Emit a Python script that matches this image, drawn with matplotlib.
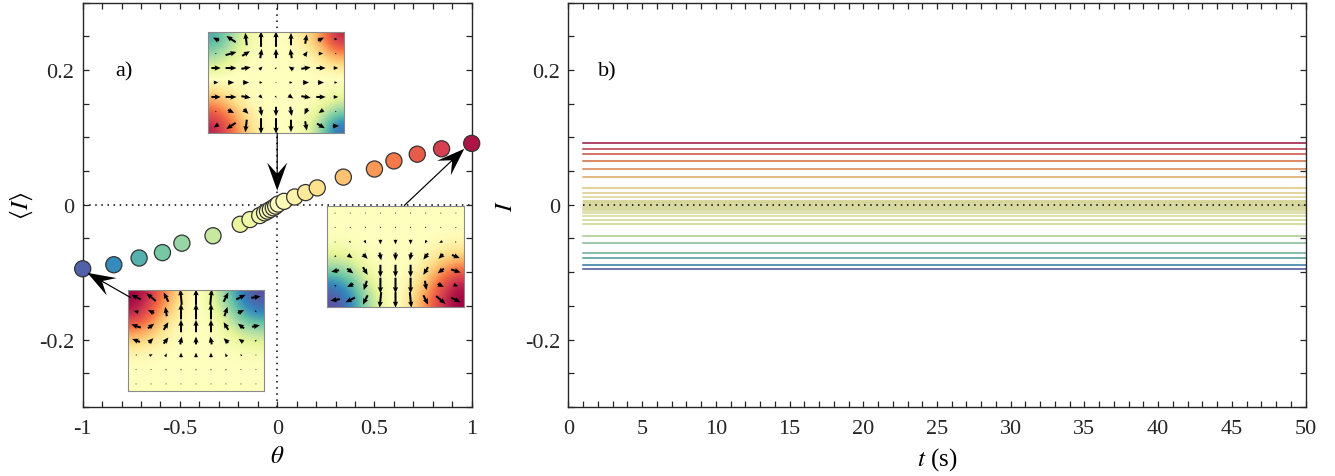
import numpy as np
import matplotlib
matplotlib.use('Agg')
import matplotlib.pyplot as plt
from matplotlib.colors import Normalize
from matplotlib.patches import FancyArrow
from matplotlib.ticker import MultipleLocator, FixedLocator, FixedFormatter

plt.rcParams['font.family'] = ['Liberation Serif', 'DejaVu Serif']
plt.rcParams['mathtext.fontset'] = 'stix'
plt.rcParams['font.size'] = 16

# mean intensity vs theta (panel a) -- same values give the lines of panel b
theta = [-1.0, -0.84, -0.71, -0.59, -0.49, -0.33, -0.19, -0.14, -0.09, -0.065, -0.05,
         -0.035, -0.02, -0.008, 0.005, 0.035, 0.09, 0.146, 0.206, 0.34, 0.5, 0.6,
         0.72, 0.845, 1.0]
I_mean = [-0.095, -0.089, -0.079, -0.071, -0.057, -0.046, -0.029, -0.022, -0.016,
          -0.012, -0.0095, -0.007, -0.0045, -0.002, 0.001, 0.005, 0.0115, 0.018,
          0.025, 0.041, 0.053, 0.065, 0.075, 0.083, 0.091]

# time axis of panel b
t = np.arange(1, 51)
band_lo, band_hi = -0.0075, 0.0075

# inset fields (coarse grids, drawn with smooth interpolation)
field_mid = [[-0.7, -0.4, -0.1, 0.0, 0.0, 0.1, 0.4, 0.9],
             [-0.4, -0.2, 0.0, 0.0, 0.0, 0.0, 0.1, 0.4],
             [-0.1, 0.0, 0.0, 0.0, 0.0, 0.0, 0.0, 0.0],
             [0.2, 0.05, 0.0, 0.0, 0.0, 0.0, 0.0, -0.05],
             [0.6, 0.3, 0.05, 0.0, 0.0, 0.0, -0.1, -0.4],
             [0.9, 0.6, 0.2, 0.0, 0.0, -0.05, -0.4, -0.9]]
U_mid = [[-0.4, -0.6, -0.1, 0.0, 0.0, 0.0, 0.1, 0.4, 0.2],
         [0.1, 0.7, 0.5, 0.1, 0.0, -0.1, 0.2, 0.3, 0.1],
         [0.6, 0.7, 0.6, 0.2, 0.1, -0.3, 0.6, 0.6, 0.3],
         [0.3, 0.4, 0.4, 0.2, 0.0, 0.2, 0.4, 0.4, 0.2],
         [0.6, 0.7, 0.6, 0.2, 0.1, 0.3, 0.6, 0.6, 0.3],
         [0.1, 0.4, 0.3, 0.1, 0.0, 0.1, -0.2, -0.3, 0.1],
         [-0.3, -0.6, -0.1, 0.0, 0.0, 0.0, 0.1, 0.5, 0.4]]
V_mid = [[0.2, 0.4, 0.8, 1.0, 1.0, 0.8, 0.6, 0.2, 0.0],
         [0.0, 0.2, 0.3, 0.6, 0.6, 0.6, 0.3, 0.0, 0.0],
         [0.0, 0.0, 0.1, 0.2, 0.1, 0.2, 0.1, 0.0, 0.0],
         [0.0, 0.0, 0.0, 0.0, 0.0, 0.0, 0.0, 0.0, 0.0],
         [0.0, 0.0, -0.1, -0.2, -0.1, -0.2, -0.1, 0.0, 0.0],
         [0.0, -0.2, -0.3, -0.6, -0.6, -0.6, -0.4, -0.2, 0.0],
         [-0.2, -0.4, -0.8, -1.0, -1.0, -0.8, -0.6, -0.3, 0.0]]

field_neg = [[1.0, 0.8, 0.4, 0.05, -0.05, -0.4, -0.8, -1.0],
             [0.9, 0.6, 0.2, 0.0, 0.0, -0.2, -0.6, -0.8],
             [0.5, 0.3, 0.05, 0.0, 0.0, -0.05, -0.3, -0.4],
             [0.1, 0.05, 0.0, 0.0, 0.0, 0.0, -0.05, -0.1],
             [0.0, 0.0, 0.0, 0.0, 0.0, 0.0, 0.0, 0.0],
             [0.0, 0.0, 0.0, 0.0, 0.0, 0.0, 0.0, 0.0]]
U_neg = [[-0.6, -0.6, -0.3, -0.1, 0.0, 0.1, 0.3, 0.6, 0.6],
         [-0.3, -0.4, -0.1, 0.0, 0.0, 0.0, 0.2, 0.4, 0.1],
         [-0.6, 0.4, 0.3, 0.0, 0.0, 0.0, -0.3, -0.4, 0.5],
         [-0.5, 0.3, 0.3, 0.1, 0.0, -0.1, -0.3, -0.3, 0.1],
         [-0.1, 0.2, 0.1, 0.0, 0.0, 0.0, -0.1, -0.1, 0.0],
         [0.0, 0.0, 0.0, 0.0, 0.0, 0.0, 0.0, 0.0, 0.0],
         [0.0, 0.0, 0.0, 0.0, 0.0, 0.0, 0.0, 0.0, 0.0]]
V_neg = [[0.3, 0.5, 0.6, 1.0, 1.0, 1.0, 0.6, 0.3, 0.1],
         [0.1, 0.2, 0.6, 1.0, 1.0, 1.0, 0.6, 0.2, -0.1],
         [0.2, 0.3, 0.5, 0.8, 0.8, 0.8, 0.5, 0.3, 0.1],
         [0.2, 0.3, 0.4, 0.5, 0.5, 0.5, 0.3, 0.2, 0.1],
         [0.0, 0.1, 0.2, 0.3, 0.3, 0.3, 0.2, 0.1, 0.0],
         [0.0, 0.0, 0.1, 0.1, 0.1, 0.1, 0.1, 0.0, 0.0],
         [0.0, 0.0, 0.0, 0.05, 0.05, 0.05, 0.0, 0.0, 0.0]]

field_pos = [[0.0, 0.0, 0.0, 0.0, 0.0, 0.0, 0.0, 0.0],
             [0.0, 0.0, 0.0, 0.0, 0.0, 0.0, 0.0, 0.0],
             [-0.1, -0.05, 0.0, 0.0, 0.0, 0.0, 0.05, 0.1],
             [-0.4, -0.3, -0.05, 0.0, 0.0, 0.05, 0.3, 0.5],
             [-0.8, -0.6, -0.2, 0.0, 0.0, 0.2, 0.6, 0.9],
             [-1.0, -0.8, -0.4, -0.05, 0.05, 0.4, 0.8, 1.0]]
U_pos = [[0.0, 0.0, 0.0, 0.0, 0.0, 0.0, 0.0, 0.0, 0.0],
         [0.0, 0.0, 0.0, 0.0, 0.0, 0.0, 0.0, 0.0, 0.0],
         [0.0, 0.1, 0.1, 0.0, 0.0, 0.0, -0.1, -0.2, 0.1],
         [-0.1, 0.3, 0.3, 0.1, 0.0, -0.1, -0.3, -0.3, 0.5],
         [-0.5, 0.4, 0.3, 0.0, 0.0, 0.0, -0.3, -0.4, 0.6],
         [-0.1, -0.4, -0.2, 0.0, 0.0, 0.0, 0.1, 0.4, 0.3],
         [-0.6, -0.6, -0.3, -0.1, 0.0, 0.1, 0.3, 0.6, 0.6]]
V_pos = [[0.0, 0.0, 0.0, -0.05, -0.05, -0.05, 0.0, 0.0, 0.0],
         [0.0, 0.0, -0.1, -0.1, -0.1, -0.1, -0.1, 0.0, 0.0],
         [0.0, -0.1, -0.2, -0.3, -0.3, -0.3, -0.2, -0.1, 0.0],
         [-0.1, -0.2, -0.3, -0.5, -0.5, -0.5, -0.4, -0.3, -0.2],
         [-0.1, -0.3, -0.5, -0.8, -0.8, -0.8, -0.5, -0.3, -0.2],
         [0.1, -0.2, -0.6, -1.0, -1.0, -1.0, -0.6, -0.2, -0.1],
         [-0.1, -0.3, -0.6, -1.0, -1.0, -1.0, -0.6, -0.5, -0.3]]

cmap = plt.get_cmap('Spectral_r')
norm = Normalize(-1.07, 1.07)
colors = [cmap(norm(th)) for th in theta]
line_colors = [(r * 0.86, g * 0.86, b * 0.86) for r, g, b, _ in colors]

W, H = 1335, 477
fig = plt.figure(figsize=(W / 100, H / 100), dpi=100)


def px_axes(x0, y0, x1, y1):
    return fig.add_axes([x0 / W, 1 - y1 / H, (x1 - x0) / W, (y1 - y0) / H])


def style_axes(ax):
    for s in ax.spines.values():
        s.set_color('#262626')
        s.set_linewidth(1.0)
    ax.tick_params(which='both', direction='in', top=True, right=True,
                   length=4, width=0.9, color='#262626', labelcolor='#262626')
    ax.tick_params(axis='x', pad=9)
    ax.tick_params(axis='y', pad=6)
    ax.set_ylim(-0.3, 0.3)
    ax.yaxis.set_major_locator(FixedLocator([-0.2, 0.0, 0.2]))
    ax.yaxis.set_major_formatter(FixedFormatter(['-0.2', '0', '0.2']))
    ax.yaxis.set_minor_locator(MultipleLocator(0.05))


# ---- panel a ----
ax1 = px_axes(82.7, 3.5, 471.7, 408)
style_axes(ax1)
ax1.set_xlim(-1, 1)
ax1.xaxis.set_major_locator(FixedLocator([-1, -0.5, 0, 0.5, 1]))
ax1.xaxis.set_major_formatter(FixedFormatter(['-1', '-0.5', '0', '0.5', '1']))
ax1.xaxis.set_minor_locator(MultipleLocator(0.1))
ax1.axhline(0, color='k', ls=(0, (1, 3)), lw=1.1, zorder=1)
ax1.axvline(0, color='k', ls=(0, (1, 3)), lw=1.1, zorder=1)
ax1.scatter(theta, I_mean, s=135, c=colors, edgecolors='#333333', linewidths=0.9,
            zorder=3, clip_on=False)
ax1.text(-0.835, 0.198, 'a)', ha='left', va='center')
ax1.set_xlabel(r'$\theta$', fontsize=18)
ax1.xaxis.set_label_coords(0.5, -0.095)
ax1.set_ylabel(r'$\langle I\rangle$', fontsize=18)
ax1.yaxis.set_label_coords(-0.123, 0.5)


def draw_inset(box, field, U, V):
    ax = px_axes(*box)
    ax.imshow(field, cmap='Spectral_r', vmin=-1, vmax=1, extent=[0, 1.35, 0, 1],
              aspect='auto', interpolation='bicubic')
    xs = np.linspace(0.08, 1.27, 9)
    ys = np.linspace(0.93, 0.07, 7)
    X, Y = np.meshgrid(xs, ys)
    ax.quiver(X, Y, U, V, angles='xy', scale_units='xy', scale=6.5, color='k',
              width=0.015, headwidth=2.6, headlength=3.0, headaxislength=2.7,
              pivot='middle', minlength=0.5)
    ax.set_xlim(0, 1.35)
    ax.set_ylim(0, 1)
    ax.set_xticks([])
    ax.set_yticks([])
    for s in ax.spines.values():
        s.set_color('#8a8a8a')
        s.set_linewidth(0.8)
    return ax


draw_inset((208, 33, 344, 134), field_mid, U_mid, V_mid)
draw_inset((128, 291, 264, 392), field_neg, U_neg, V_neg)
draw_inset((327, 207, 464, 308), field_pos, U_pos, V_pos)

# pointer arrows (start in inset, tip at a data point), drawn in pixel space
pointers = [((0.0, 0.107), (0.0, 0.021)),
            ((-0.752, -0.138), (-0.976, -0.101)),
            ((0.652, -0.0015), (0.962, 0.083))]
over = fig.add_axes([0, 0, 1, 1], zorder=10)
over.set_xlim(0, W)
over.set_ylim(0, H)
over.axis('off')
for start, tip in pointers:
    (x0, y0), (x1, y1) = ax1.transData.transform([start, tip])
    over.add_patch(FancyArrow(x0, y0, x1 - x0, y1 - y0, width=1.2, head_width=20,
                              head_length=28, overhang=0.38, length_includes_head=True,
                              color='k', lw=0))

# ---- panel b ----
ax2 = px_axes(568.3, 3.5, 1305.7, 408)
style_axes(ax2)
ax2.set_xlim(0, 50)
ax2.xaxis.set_major_locator(MultipleLocator(5))
ax2.xaxis.set_minor_locator(MultipleLocator(1))
ax2.fill_between(t, band_lo, band_hi, color='#d3d49c', lw=0, zorder=1)
for val, col in zip(I_mean, line_colors):
    ax2.plot(t, np.full(len(t), val), color=col, lw=1.1, zorder=2)
ax2.plot(t, np.zeros(len(t)), color='k', ls=(0, (1, 3)), lw=1.1, zorder=3)
ax2.text(2.0, 0.198, 'b)', ha='left', va='center')
ax2.set_xlabel(r'$t$ (s)', fontsize=18)
ax2.xaxis.set_label_coords(0.5, -0.095)
ax2.set_ylabel(r'$I$', fontsize=18)
ax2.yaxis.set_label_coords(-0.07, 0.5)

fig.savefig('out.png', dpi=100)
